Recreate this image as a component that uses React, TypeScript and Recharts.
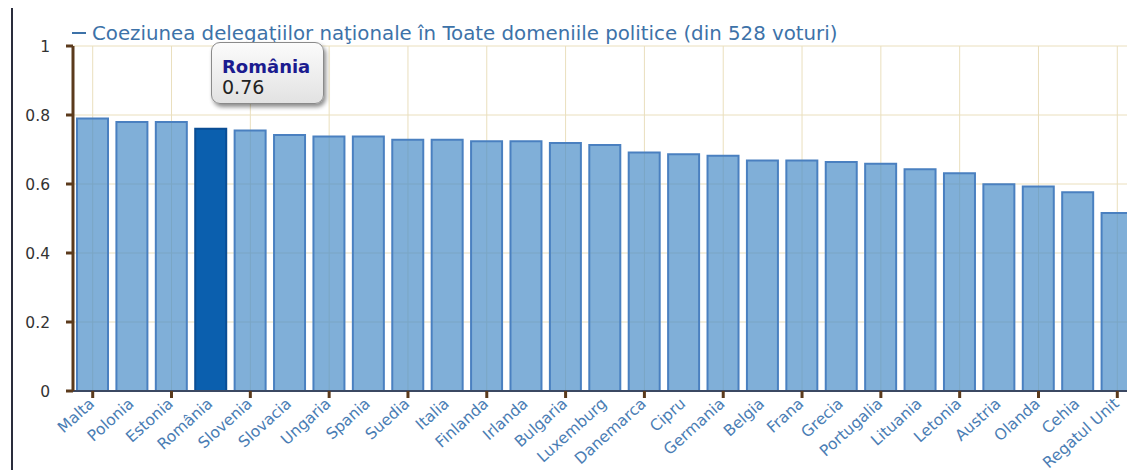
import React from 'react';
import { BarChart, Bar, XAxis, YAxis, CartesianGrid, Tooltip, Legend, Cell } from 'recharts';

const countries = ['Malta', 'Polonia', 'Estonia', 'România', 'Slovenia', 'Slovacia', 'Ungaria', 'Spania', 'Suedia', 'Italia', 'Finlanda', 'Irlanda', 'Bulgaria', 'Luxemburg', 'Danemarca', 'Cipru', 'Germania', 'Belgia', 'Frana', 'Grecia', 'Portugalia', 'Lituania', 'Letonia', 'Austria', 'Olanda', 'Cehia', 'Regatul Unit'];
const cohesion = [0.79, 0.78, 0.78, 0.76, 0.755, 0.742, 0.738, 0.738, 0.728, 0.728, 0.724, 0.724, 0.719, 0.713, 0.691, 0.686, 0.682, 0.668, 0.668, 0.664, 0.659, 0.643, 0.631, 0.599, 0.593, 0.576, 0.516];
const yTicks = [0, 0.2, 0.4, 0.6, 0.8, 1];
const seriesName = 'Coeziunea delegaţiilor naţionale în Toate domeniile politice (din 528 voturi)';
const highlighted = 'România';

const data = countries.map((c, i) => ({ country: c, value: cohesion[i] }));
const highlightIndex = countries.indexOf(highlighted);

const FONT = '"DejaVu Sans", Verdana, sans-serif';
const TICK_SIZE = 6;
const TICK_MARGIN = 2;
const BROWN = '#5b3a1c';

const XTick = (props: any) => {
  const { x, y, payload, index } = props;
  const axisY = y - TICK_SIZE - TICK_MARGIN;
  const tx = x - 1;
  const ty = y + 2;
  return (
    <g>
      {index % 2 === 0 && (
        <line x1={x} x2={x} y1={axisY} y2={axisY + TICK_SIZE + 1} stroke={BROWN} strokeWidth={3} />
      )}
      <text
        x={tx}
        y={ty}
        transform={`rotate(-42, ${tx}, ${ty})`}
        textAnchor="end"
        dy="0.35em"
        fill="#4a7db4"
        fontSize={15.5}
        fontFamily={FONT}
      >
        {payload.value}
      </text>
    </g>
  );
};

const TipContent = (props: any) => {
  const { active, payload } = props;
  if (!active || !payload || !payload.length) return null;
  const p = payload[0];
  return (
    <div
      style={{
        fontFamily: FONT,
        background: 'linear-gradient(#fbfbfb, #e2e2e2)',
        border: '1px solid #8a8a8a',
        borderRadius: 9,
        boxShadow: '2px 3px 4px rgba(0,0,0,0.45)',
        padding: '13px 12px 5px 10px',
        width: 89,
        lineHeight: '21px',
      }}
    >
      <div style={{ fontWeight: 'bold', color: '#1b1b8f', fontSize: 18 }}>{p.payload.country}</div>
      <div style={{ color: '#222', fontSize: 19 }}>{p.value}</div>
    </div>
  );
};

const LegendContent = () => (
  <div style={{ fontFamily: FONT, fontSize: 19.8, color: '#3d72a8', height: 22, lineHeight: '22px', whiteSpace: 'nowrap' }}>
    <span style={{ display: 'inline-block', width: 14, height: 2, background: '#3d72a8', verticalAlign: 'middle', marginRight: 6, marginBottom: 3 }} />
    {seriesName}
  </div>
);

export default function App() {
  return (
    <div style={{ position: 'fixed', left: 0, top: 0, width: 1127, height: 470, overflow: 'hidden', background: '#fff' }}>
      <div style={{ position: 'absolute', left: 11, top: 8, width: 2, height: 470, background: '#2a2d3c' }} />
      <BarChart
        width={1150}
        height={470}
        data={data}
        margin={{ top: 24, right: 13, left: 0, bottom: 0 }}
        barCategoryGap={4}
      >
        <CartesianGrid xAxisId="grid" stroke="#eadfbd" strokeWidth={1} />
        <XAxis xAxisId="grid" dataKey="country" interval={1} hide />
        <XAxis
          dataKey="country"
          interval={0}
          height={79}
          tickSize={TICK_SIZE}
          tickMargin={TICK_MARGIN}
          tickLine={false}
          tick={<XTick />}
          axisLine={{ stroke: '#3b4862', strokeWidth: 2 }}
        />
        <YAxis
          domain={[0, 1]}
          ticks={yTicks}
          width={73}
          tickSize={7}
          tickMargin={16}
          tickLine={{ stroke: BROWN, strokeWidth: 3 }}
          axisLine={{ stroke: BROWN, strokeWidth: 3 }}
          tick={{ fill: '#333', fontSize: 15.5, fontFamily: FONT }}
        />
        <Legend verticalAlign="top" align="left" content={<LegendContent />} wrapperStyle={{ left: 72, top: 23, height: 22 }} />
        <Tooltip
          defaultIndex={highlightIndex}
          cursor={false}
          position={{ x: 211, y: 42 }}
          content={<TipContent />}
          isAnimationActive={false}
        />
        <Bar dataKey="value" name={seriesName} isAnimationActive={false} stroke="#4a80c0" strokeWidth={2} activeBar={false}>
          {data.map((d) => (
            <Cell
              key={d.country}
              fill={d.country === highlighted ? '#0b5fae' : '#4a8dc8'}
              fillOpacity={d.country === highlighted ? 1 : 0.7}
              stroke={d.country === highlighted ? '#0a4d94' : '#4a80c0'}
            />
          ))}
        </Bar>
      </BarChart>
    </div>
  );
}
